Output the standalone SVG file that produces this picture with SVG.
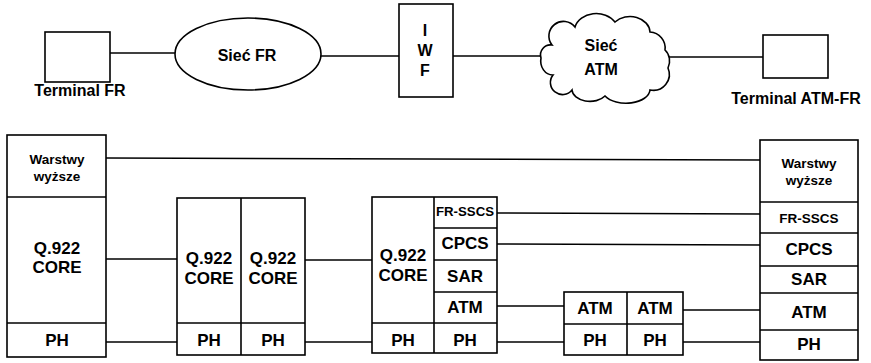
<svg xmlns="http://www.w3.org/2000/svg" width="871" height="363" viewBox="0 0 871 363">
<style>
.b{fill:#fff;stroke:#000;stroke-width:1.6}
.l{fill:none;stroke:#000;stroke-width:1.6}
text{font-family:"Liberation Sans",Arial,sans-serif;font-weight:bold;fill:#000;text-anchor:middle;dominant-baseline:central}
.m{font-size:17px}
.s{font-size:13.5px}
.t{font-size:16px}
</style>
<rect width="871" height="363" fill="#fff"/>
<g id="connectors">
<line class="l" x1="110" y1="53" x2="175" y2="53"/>
<line class="l" x1="321" y1="56" x2="399" y2="56"/>
<line class="l" x1="453" y1="56" x2="541" y2="56"/>
<line class="l" x1="669" y1="57" x2="763" y2="57"/>
<line class="l" x1="106" y1="158" x2="760" y2="160"/>
<line class="l" x1="106" y1="259" x2="177" y2="259"/>
<line class="l" x1="106" y1="342" x2="177" y2="342"/>
<line class="l" x1="305" y1="260" x2="372" y2="260"/>
<line class="l" x1="305" y1="342" x2="372" y2="342"/>
<line class="l" x1="497" y1="213" x2="760" y2="214"/>
<line class="l" x1="497" y1="244" x2="760" y2="245"/>
<line class="l" x1="497" y1="306" x2="564" y2="306"/>
<line class="l" x1="497" y1="342" x2="564" y2="342"/>
<line class="l" x1="683" y1="310" x2="760" y2="310"/>
<line class="l" x1="683" y1="342" x2="760" y2="342"/>
</g>
<g id="terminal-fr">
<rect class="b" x="45" y="32" width="65" height="50"/>
<text class="t" x="80" y="90">Terminal FR</text>
</g>
<g id="siec-fr">
<ellipse class="b" cx="248" cy="54" rx="73" ry="36"/>
<text class="t" x="247" y="55">Sieć FR</text>
</g>
<g id="iwf">
<rect class="b" x="399" y="4" width="54" height="93"/>
<text class="t" x="425" y="30">I</text>
<text class="t" x="425" y="50">W</text>
<text class="t" x="425" y="70">F</text>
</g>
<g id="siec-atm">
<path class="b" d="M552,45 A14,14 0 0 1 575,27 A22,18 0 0 1 615,22 A20,16 0 0 1 650,32 A16,16 0 0 1 665,50 A12,14 0 0 1 668,68 A16,16 0 0 1 650,90 A24,14 0 0 1 605,96 A18,12 0 0 1 572,90 A12,12 0 0 1 553,75 A12,14 0 0 1 541,58 A10,10 0 0 1 552,45 Z"/>
<text class="t" x="601" y="45">Sieć</text>
<text class="t" x="601" y="69">ATM</text>
</g>
<g id="terminal-atm-fr">
<rect class="b" x="763" y="35" width="65" height="43"/>
<text class="t" x="796" y="98">Terminal ATM-FR</text>
</g>
<g id="stack-fr-terminal">
<rect class="b" x="7" y="135" width="99" height="222"/>
<line class="l" x1="7" y1="197" x2="106" y2="197"/>
<line class="l" x1="7" y1="323" x2="106" y2="323"/>
<text class="s" x="57" y="159">Warstwy</text>
<text class="s" x="57" y="176">wyższe</text>
<text class="m" x="57" y="248">Q.922</text>
<text class="m" x="57" y="267">CORE</text>
<text class="m" x="57" y="340">PH</text>
</g>
<g id="stack-fr-network">
<rect class="b" x="177" y="198" width="128" height="157"/>
<line class="l" x1="241" y1="198" x2="241" y2="355"/>
<line class="l" x1="177" y1="323" x2="305" y2="323"/>
<text class="m" x="209" y="258">Q.922</text>
<text class="m" x="209" y="278">CORE</text>
<text class="m" x="273" y="258">Q.922</text>
<text class="m" x="273" y="278">CORE</text>
<text class="m" x="209" y="340">PH</text>
<text class="m" x="273" y="340">PH</text>
</g>
<g id="stack-iwf">
<rect class="b" x="372" y="197" width="125" height="156"/>
<line class="l" x1="434" y1="197" x2="434" y2="353"/>
<line class="l" x1="372" y1="323" x2="497" y2="323"/>
<line class="l" x1="434" y1="228" x2="497" y2="228"/>
<line class="l" x1="434" y1="260" x2="497" y2="260"/>
<line class="l" x1="434" y1="292" x2="497" y2="292"/>
<text class="m" x="403" y="255">Q.922</text>
<text class="m" x="403" y="275">CORE</text>
<text class="m" x="403" y="340">PH</text>
<text class="s" x="465" y="211" textLength="58" lengthAdjust="spacingAndGlyphs">FR-SSCS</text>
<text class="m" x="465" y="243">CPCS</text>
<text class="m" x="465" y="276">SAR</text>
<text class="m" x="465" y="307">ATM</text>
<text class="m" x="465" y="340">PH</text>
</g>
<g id="stack-atm-network">
<rect class="b" x="564" y="292" width="119" height="63"/>
<line class="l" x1="627" y1="292" x2="627" y2="355"/>
<line class="l" x1="564" y1="324" x2="683" y2="324"/>
<text class="m" x="595" y="308">ATM</text>
<text class="m" x="655" y="308">ATM</text>
<text class="m" x="595" y="340">PH</text>
<text class="m" x="655" y="340">PH</text>
</g>
<g id="stack-atm-fr-terminal">
<rect class="b" x="760" y="140" width="98" height="220"/>
<line class="l" x1="760" y1="202" x2="858" y2="202"/>
<line class="l" x1="760" y1="233" x2="858" y2="233"/>
<line class="l" x1="760" y1="266" x2="858" y2="266"/>
<line class="l" x1="760" y1="293" x2="858" y2="293"/>
<line class="l" x1="760" y1="330" x2="858" y2="330"/>
<text class="s" x="809" y="163">Warstwy</text>
<text class="s" x="809" y="180">wyższe</text>
<text class="s" x="809" y="218">FR-SSCS</text>
<text class="m" x="809" y="249">CPCS</text>
<text class="m" x="809" y="279">SAR</text>
<text class="m" x="809" y="312">ATM</text>
<text class="m" x="809" y="344">PH</text>
</g>
</svg>
